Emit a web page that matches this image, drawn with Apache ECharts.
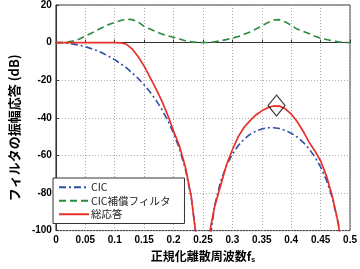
<!DOCTYPE html>
<html>
<head>
<meta charset="utf-8">
<script src="https://cdn.jsdelivr.net/npm/echarts@6/dist/echarts.min.js"></script>
<style>
  html, body { margin: 0; padding: 0; background: #fff; }
  #chart { width: 360px; height: 269px; }
</style>
</head>
<body>
<div id="chart"></div>
<script>
// normalized frequency (x fs)
var freq = [0, 0.01, 0.02, 0.03, 0.04, 0.05, 0.06, 0.07, 0.08, 0.09,
  0.1, 0.11, 0.12, 0.13, 0.14, 0.15, 0.16, 0.17, 0.18, 0.19,
  0.2, 0.21, 0.22, 0.23, 0.24, 0.25, 0.26, 0.27, 0.28, 0.29,
  0.3, 0.31, 0.32, 0.33, 0.34, 0.35, 0.36, 0.37, 0.38, 0.39,
  0.4, 0.41, 0.42, 0.43, 0.44, 0.45, 0.46, 0.47, 0.48, 0.49, 0.5];
// CIC (dB)
var cic = [0, -0.1, -0.3, -0.8, -1.4, -2.2, -3.2, -4.3, -5.7, -7.3,
  -9.1, -11.2, -13.5, -16.2, -19.1, -22.5, -26.3, -30.6, -35.5, -41.3,
  -48.2, -56.5, -67.2, -82.1, -107.2, -140, -109.3, -86.5, -73.8, -65.4,
  -59.3, -54.7, -51.3, -48.8, -47.1, -45.9, -45.3, -45.3, -45.7, -46.7,
  -48.2, -50.2, -52.9, -56.4, -60.7, -66.2, -73.3, -82.7, -96.4, -120.3, -140];
// CIC補償フィルタ (dB)
var comp = [0, 0.1, 0.3, 0.9, 1.9, 3.4, 5.0, 6.6, 8.2, 9.6,
  10.8, 11.8, 12.4, 12.2, 10.9, 8.6, 7.2, 5.8, 4.6, 3.6,
  2.8, 1.9, 1.0, 0.4, 0.1, 0, 0.1, 0.4, 1.0, 1.6,
  2.4, 3.2, 4.4, 5.6, 7.2, 8.8, 10.6, 12.0, 12.2, 11.0,
  9.2, 7.2, 6.0, 4.9, 3.4, 2.4, 1.6, 0.9, 0.4, 0.1, 0];
// 総応答 (dB)
var total = [0, 0, 0, 0, 0, 0, 0, 0, 0, 0,
  0, -0.1, -0.9, -3.5, -7.5, -12.5, -18.5, -24.5, -31.0, -38.5,
  -47.0, -55.0, -66.0, -82.0, -107.0, -140, -103.0, -87.0, -76.0, -65.0,
  -57.0, -50.0, -45.0, -41.5, -38.5, -36.3, -34.6, -33.7, -33.8, -35.2,
  -38.0, -42.0, -47.0, -52.8, -57.5, -63.0, -71.0, -82.0, -96.0, -120.0, -140];
var peakMark = [0.375, -33.5];

var names = ['CIC', 'CIC補償フィルタ', '総応答'];
var xTicks = { min: 0, max: 0.5, interval: 0.05 };
var yTicks = { min: -100, max: 20, interval: 20 };

function pairs(ys) {
  return freq.map(function (f, i) { return [f, ys[i]]; });
}

var chart = echarts.init(document.getElementById('chart'));
var tickFont = { color: '#000', fontSize: 10, fontWeight: 'bold', fontFamily: 'Liberation Sans' };
var option = {
  animation: false,
  grid: { left: 41.5, right: 6, top: 5, bottom: 32, show: true, borderColor: '#333', borderWidth: 1 },
  legend: {
    data: names,
    orient: 'vertical',
    left: 53, top: 178,
    itemWidth: 30, itemHeight: 10, itemGap: 3,
    padding: [4, 14, 4, 5],
    backgroundColor: '#fff',
    borderColor: '#333', borderWidth: 1,
    itemStyle: { opacity: 0 },
    textStyle: { color: '#222', fontSize: 10.5, fontFamily: 'Noto Sans CJK JP', padding: [0, 0, 0, -3] }
  },
  xAxis: {
    type: 'value', min: xTicks.min, max: xTicks.max, interval: xTicks.interval,
    name: '正規化離散周波数f{sub|s}',
    nameLocation: 'middle', nameGap: 15,
    nameTextStyle: {
      color: '#000', fontSize: 12, fontWeight: 'bold', fontFamily: 'Noto Sans CJK JP',
      rich: { sub: { fontSize: 7, fontWeight: 'bold', fontFamily: 'Liberation Sans', padding: [8, 0, 0, 0] } }
    },
    axisLine: { lineStyle: { color: '#333' } },
    axisTick: { inside: true, length: 3, lineStyle: { color: '#333' } },
    axisLabel: Object.assign({ margin: 5 }, tickFont),
    splitLine: { show: true, lineStyle: { color: '#aaa', type: [1, 2] } }
  },
  yAxis: {
    type: 'value', min: yTicks.min, max: yTicks.max, interval: yTicks.interval,
    name: 'フィルタの振幅応答 (dB)',
    nameLocation: 'middle', nameGap: 30,
    nameTextStyle: { color: '#000', fontSize: 13, fontWeight: 'bold', fontFamily: 'Noto Sans CJK JP', padding: [0, 20, 0, 0] },
    axisLine: { show: true, lineStyle: { color: '#333' } },
    axisTick: { show: true, inside: true, length: 3, lineStyle: { color: '#333' } },
    axisLabel: Object.assign({ margin: 4 }, tickFont),
    splitLine: { show: true, lineStyle: { color: '#aaa', type: [1, 2] } }
  },
  series: [
    {
      name: names[0], type: 'line', data: pairs(cic), symbol: 'none',
      lineStyle: { color: '#2d4fa6', width: 1.6, type: [7, 3, 2, 3] },
      itemStyle: { color: '#2d4fa6' }
    },
    {
      name: names[1], type: 'line', data: pairs(comp), symbol: 'none',
      lineStyle: { color: '#2a8a3c', width: 1.6, type: [7, 4] },
      itemStyle: { color: '#2a8a3c' }
    },
    {
      name: names[2], type: 'line', data: pairs(total), symbol: 'none',
      lineStyle: { color: '#e8302a', width: 1.7 },
      itemStyle: { color: '#e8302a' }
    },
    {
      name: 'peak', type: 'scatter', data: [peakMark],
      symbol: 'diamond', symbolSize: [17, 21],
      itemStyle: { color: 'rgba(0,0,0,0)', borderColor: '#111', borderWidth: 1.2 },
      z: 5
    }
  ]
};
chart.setOption(option);
</script>
</body>
</html>
